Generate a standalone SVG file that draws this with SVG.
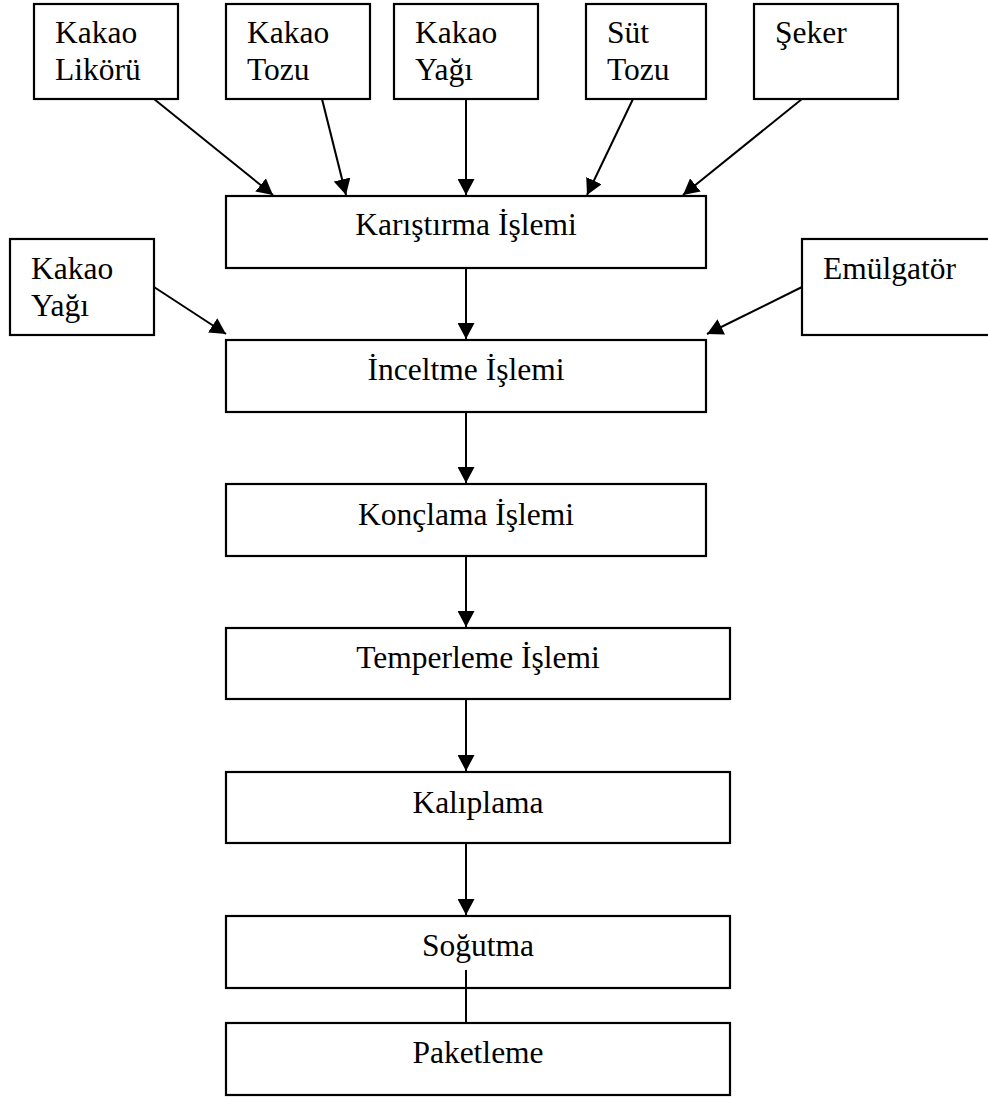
<svg xmlns="http://www.w3.org/2000/svg" width="988" height="1099" viewBox="0 0 988 1099">
<style>
.box{fill:#fff;stroke:#000;stroke-width:2.2}
.t{font-family:"Liberation Serif","Times New Roman",serif;font-size:31.5px;fill:#000}
.c{text-anchor:middle}
.con line{stroke:#000;stroke-width:2}
</style>
<defs>
<marker id="ah" markerWidth="17" markerHeight="17" viewBox="0 0 16 16" refX="15" refY="8" orient="auto" markerUnits="userSpaceOnUse">
<path d="M0,0 L15,8 L0,16 Z" fill="#000"/>
</marker>
</defs>
<rect width="988" height="1099" fill="#fff"/>
<g id="n-likor"><rect class="box" x="34" y="4" width="144" height="95"/><text class="t" x="55" y="43">Kakao</text><text class="t" x="55" y="80">Likörü</text></g>
<g id="n-tozu"><rect class="box" x="226" y="4" width="144" height="95"/><text class="t" x="247" y="43">Kakao</text><text class="t" x="247" y="80">Tozu</text></g>
<g id="n-yagi"><rect class="box" x="394" y="4" width="144" height="95"/><text class="t" x="415" y="43">Kakao</text><text class="t" x="415" y="80">Yağı</text></g>
<g id="n-sut"><rect class="box" x="586" y="4" width="120" height="95"/><text class="t" x="607" y="43">Süt</text><text class="t" x="607" y="80">Tozu</text></g>
<g id="n-seker"><rect class="box" x="754" y="4" width="144" height="95"/><text class="t" x="775" y="43">Şeker</text></g>
<g id="n-yagi2"><rect class="box" x="10" y="239" width="144" height="96"/><text class="t" x="31" y="279">Kakao</text><text class="t" x="31" y="316">Yağı</text></g>
<g id="n-emul"><rect class="box" x="802" y="239" width="200" height="96"/><text class="t" x="823" y="279">Emülgatör</text></g>
<g id="n-karistirma"><rect class="box" x="226" y="196" width="480" height="72"/><text class="t c" x="466" y="235">Karıştırma İşlemi</text></g>
<g id="n-inceltme"><rect class="box" x="226" y="340" width="480" height="72"/><text class="t c" x="466" y="380">İnceltme İşlemi</text></g>
<g id="n-konclama"><rect class="box" x="226" y="484" width="480" height="72"/><text class="t c" x="466" y="525">Konçlama İşlemi</text></g>
<g id="n-temperleme"><rect class="box" x="226" y="628" width="504" height="71"/><text class="t c" x="478" y="668">Temperleme İşlemi</text></g>
<g id="n-kaliplama"><rect class="box" x="226" y="772" width="504" height="71"/><text class="t c" x="478" y="813">Kalıplama</text></g>
<g id="n-sogutma"><rect class="box" x="226" y="916" width="504" height="72"/><text class="t c" x="478" y="956">Soğutma</text></g>
<g id="n-paketleme"><rect class="box" x="226" y="1023" width="504" height="72"/><text class="t c" x="478" y="1063">Paketleme</text></g>
<g id="connectors" class="con">
<line x1="154" y1="99" x2="273" y2="195" marker-end="url(#ah)"/>
<line x1="322" y1="99" x2="346" y2="195" marker-end="url(#ah)"/>
<line x1="466" y1="99" x2="466" y2="195" marker-end="url(#ah)"/>
<line x1="633" y1="99" x2="587" y2="195" marker-end="url(#ah)"/>
<line x1="802" y1="99" x2="683" y2="195" marker-end="url(#ah)"/>
<line x1="466" y1="268" x2="466" y2="339" marker-end="url(#ah)"/>
<line x1="154" y1="287" x2="226" y2="334" marker-end="url(#ah)"/>
<line x1="802" y1="287" x2="707" y2="334" marker-end="url(#ah)"/>
<line x1="466" y1="412" x2="466" y2="483" marker-end="url(#ah)"/>
<line x1="466" y1="556" x2="466" y2="627" marker-end="url(#ah)"/>
<line x1="466" y1="699" x2="466" y2="771" marker-end="url(#ah)"/>
<line x1="466" y1="843" x2="466" y2="915" marker-end="url(#ah)"/>
<line x1="466" y1="970" x2="466" y2="1023"/>
</g>
</svg>
